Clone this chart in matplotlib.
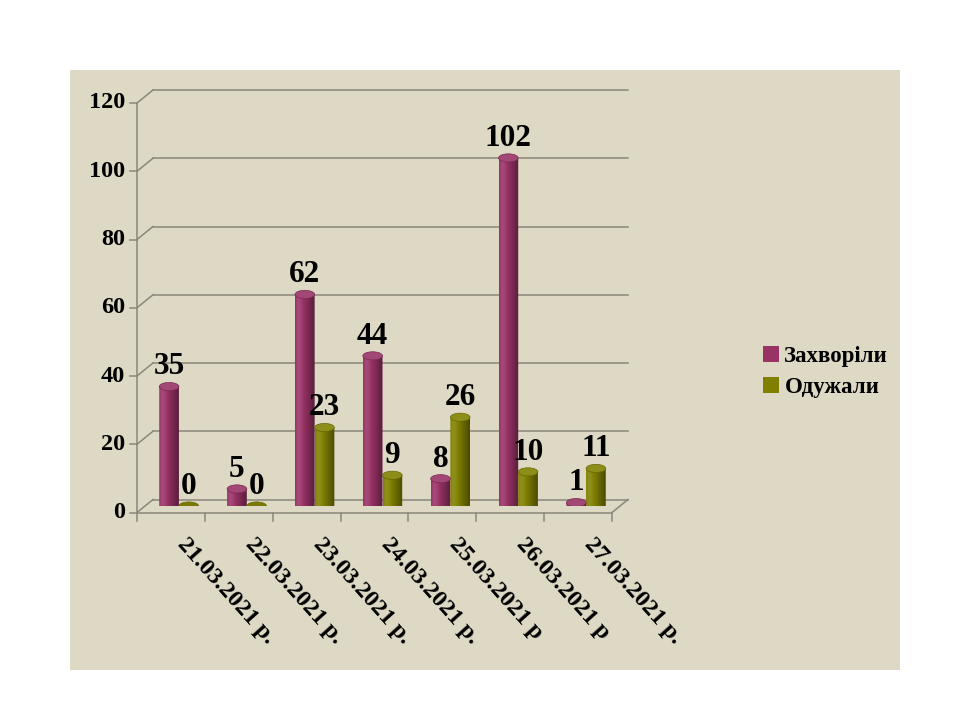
import numpy as np
import matplotlib
matplotlib.use("Agg")
import matplotlib.pyplot as plt
from matplotlib.patches import Rectangle, Ellipse, PathPatch, Patch
from matplotlib.path import Path
from matplotlib.transforms import ScaledTranslation, IdentityTransform
from matplotlib.lines import Line2D

categories = ["21.03.2021 р.", "22.03.2021 р.", "23.03.2021 р.", "24.03.2021 р.",
              "25.03.2021 р", "26.03.2021 р", "27.03.2021 р."]
sick = [35, 5, 62, 44, 8, 102, 1]
recovered = [0, 0, 23, 9, 26, 10, 11]
series_names = ["Захворіли", "Одужали"]
yticks = [0, 20, 40, 60, 80, 100, 120]

FONT = "Liberation Serif"
BG = "#DDD9C4"
PINK = "#993366"
GREEN = "#808000"
GRID = "#8a877c"

fig = plt.figure(figsize=(9.6, 7.2), dpi=100)
fig.patch.set_facecolor("white")
fig.patches.append(Rectangle((70/960, 50/720), 830/960, 600/720,
                             transform=fig.transFigure, facecolor=BG,
                             edgecolor="none", zorder=-5))

ax = fig.add_axes([145/960, 214/720, 475/960, 409.5/720])
ax.set_zorder(1)
ax.set_xlim(-0.5, len(categories) - 0.5)
ax.set_ylim(0, 120)
ax.axis("off")
ax.patch.set_alpha(0)

dx, dy = 8/100, 6.5/100  # inches
back = ax.transData + ScaledTranslation(dx, dy, fig.dpi_scale_trans)
front = ax.transData + ScaledTranslation(-dx, -dy, fig.dpi_scale_trans)

fig.canvas.draw()
xmin, xmax = ax.get_xlim()

def disp(tr, x, y):
    return tr.transform((x, y))

def seg(p0, p1, **kw):
    l = Line2D([p0[0], p1[0]], [p0[1], p1[1]], transform=IdentityTransform(),
               color=GRID, lw=1.1, zorder=0, **kw)
    fig.add_artist(l)

for v in yticks:
    seg(disp(back, xmin, v), disp(back, xmax, v))
    seg(disp(front, xmin, v), disp(back, xmin, v))
    p = disp(front, xmin, v)
    seg((p[0] - 7, p[1]), p)
    ax.text(xmin, v, str(v), transform=front + ScaledTranslation(-0.12, 0, fig.dpi_scale_trans),
            ha="right", va="center", fontsize=17.5, fontweight="bold", family=FONT)

seg(disp(front, xmin, 0), disp(front, xmin, 120))
seg(disp(front, xmin, 0), disp(front, xmax, 0))
seg(disp(front, xmax, 0), disp(back, xmax, 0))
for k in range(len(categories) + 1):
    p = disp(front, xmin + k, 0)
    seg(p, (p[0], p[1] - 8))

for i, lab in enumerate(categories):
    ax.text(i, 0, lab, transform=front + ScaledTranslation(0.10, -0.28, fig.dpi_scale_trans),
            rotation=-48, rotation_mode="anchor", ha="left", va="center",
            fontsize=17.5, fontweight="bold", family=FONT)

w = 0.29
eh = 2.4

def shade(hexc, f):
    c = np.array(matplotlib.colors.to_rgb(hexc))
    if f >= 1:
        return np.clip(c + (1 - c) * (f - 1), 0, 1)
    return np.clip(c * f, 0, 1)

def cylinder(xc, v, color, z):
    x0, x1 = xc - w/2, xc + w/2
    if v > 0:
        n = 30
        t = np.linspace(np.pi, 2*np.pi, n)
        bx = xc + (w/2) * np.cos(t)
        by = (eh/2) * np.sin(t)
        verts = [(x0, v)] + list(zip(bx, by)) + [(x1, v), (x0, v)]
        codes = [Path.MOVETO] + [Path.LINETO] * (len(verts) - 2) + [Path.CLOSEPOLY]
        patch = PathPatch(Path(verts, codes), transform=ax.transData,
                          facecolor="none", edgecolor="none")
        ax.add_patch(patch)
        fs = np.array([1.0, 1.12, 1.08, 0.98, 0.88, 0.78, 0.68, 0.58])
        xs = np.linspace(0, 1, len(fs))
        xx = np.linspace(0, 1, 64)
        ff = np.interp(xx, xs, fs)
        grad = np.array([[shade(color, f) for f in ff]])
        im = ax.imshow(grad, extent=[x0, x1, -eh/2, v], aspect="auto",
                       zorder=z, interpolation="bilinear")
        im.set_clip_path(patch)
    top = Ellipse((xc, v), w, eh, transform=ax.transData,
                  facecolor=shade(color, 1.1 if v > 0 else 0.95),
                  edgecolor=shade(color, 0.8), lw=0.5, zorder=z + 0.1)
    ax.add_patch(top)

off = 0.145
for i in range(len(categories)):
    cylinder(i - off, sick[i], PINK, 3)
    cylinder(i + off, recovered[i], GREEN, 3)
    for xc, v in ((i - off, sick[i]), (i + off, recovered[i])):
        ax.text(xc, v + eh/2, str(v), transform=ax.transData + ScaledTranslation(0, 0.01, fig.dpi_scale_trans),
                ha="center", va="bottom", fontsize=22.5, fontweight="bold",
                family=FONT, zorder=5)

ax.set_xlim(-0.5, len(categories) - 0.5)
ax.set_ylim(0, 120)

handles = [Patch(facecolor=PINK, edgecolor="none"), Patch(facecolor=GREEN, edgecolor="none")]
fig.legend(handles, series_names, loc="center left",
           bbox_to_anchor=(742/960, 1 - 372/720), frameon=False,
           prop={"family": FONT, "weight": "bold", "size": 16.5},
           handlelength=0.7, handleheight=0.7, handletextpad=0.25, labelspacing=0.4)

fig.savefig("out.png", dpi=100)
